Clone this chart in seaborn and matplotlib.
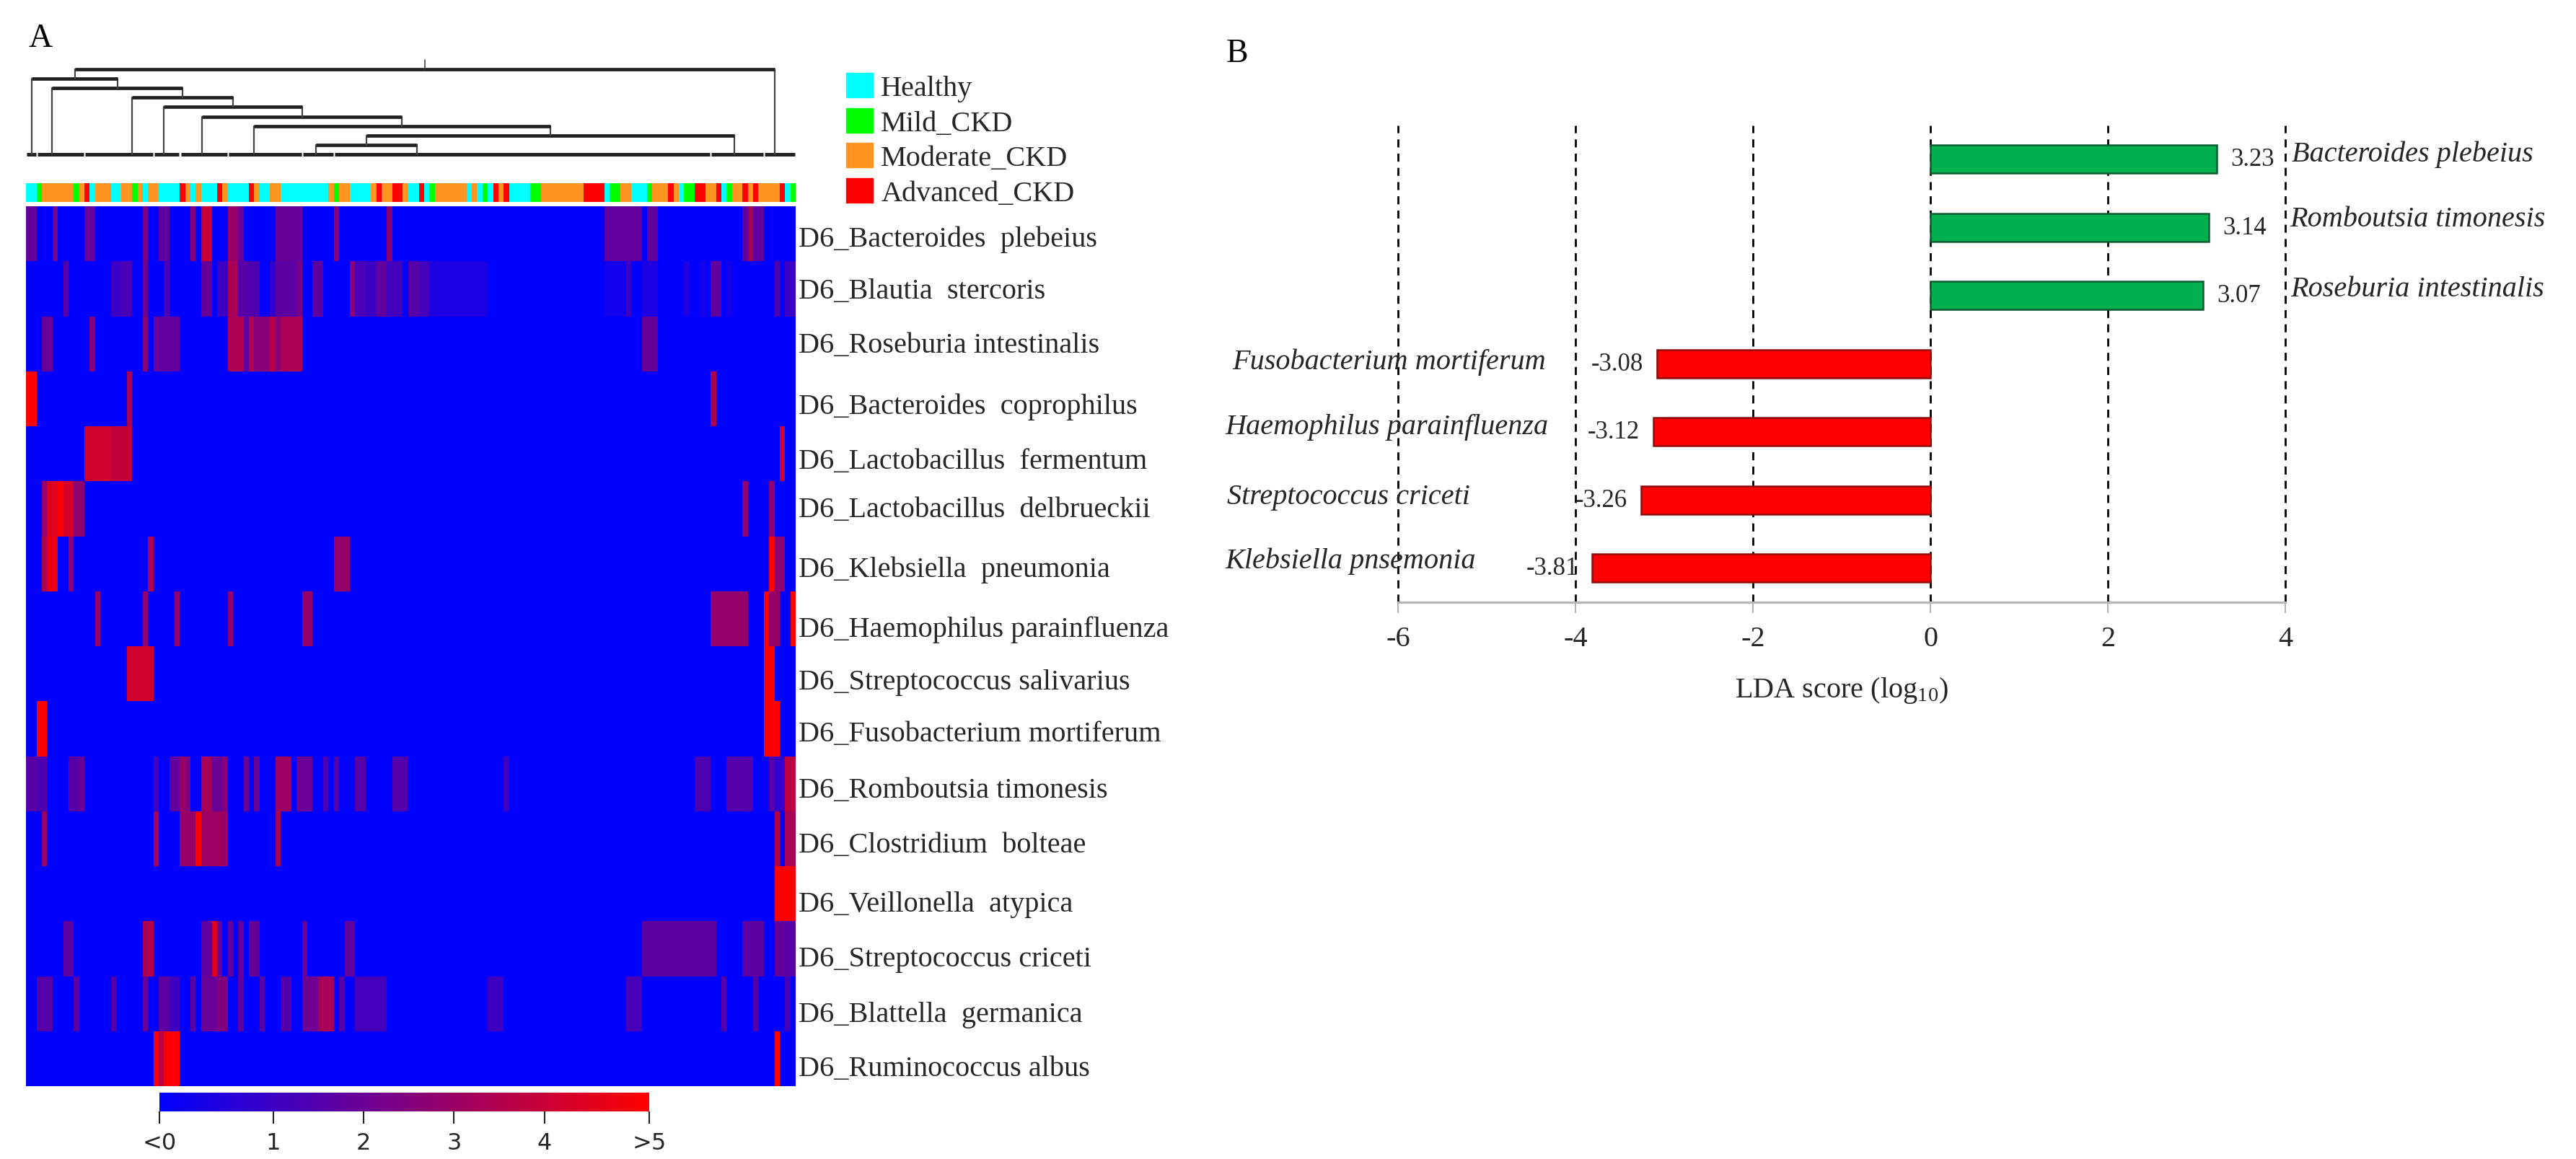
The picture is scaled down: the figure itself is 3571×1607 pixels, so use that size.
import numpy as np
import pandas as pd
import matplotlib.pyplot as plt
from matplotlib.colors import LinearSegmentedColormap, ListedColormap
from matplotlib.patches import Patch
import seaborn as sns

# Panel A: (first sample, last sample + 1, value) for each species
bacteroides_plebeius = [(0, 2, 1.8), (5, 6, 2.3), (11, 13, 1.9), (22, 23, 2.3), (25, 27, 1.7), (31, 32, 2.5),
                        (33, 35, 4.0), (38, 40, 3.0), (40, 41, 2.0), (47, 52, 1.9), (58, 59, 2.7), (68, 69, 2.7),
                        (109, 116, 1.8), (117, 119, 1.8), (135, 136, 1.9), (136, 137, 3.4), (137, 139, 1.8)]
blautia_stercoris = [(7, 8, 1.5), (16, 18, 1.0), (18, 20, 1.3), (22, 23, 2.0), (26, 27, 1.3), (33, 35, 1.9),
                     (36, 38, 1.0), (38, 40, 3.3), (40, 42, 1.6), (42, 44, 1.4), (46, 47, 0.8), (47, 51, 1.7),
                     (51, 52, 2.3), (54, 56, 1.7), (61, 62, 2.8), (62, 64, 1.3), (64, 66, 1.0), (66, 68, 1.8),
                     (68, 71, 1.2), (72, 74, 1.6), (74, 76, 1.2), (76, 87, 0.35), (109, 113, 0.15), (113, 114, 1.0),
                     (116, 119, 0.35), (124, 125, 0.4), (127, 128, 0.3), (129, 131, 1.8), (132, 133, 0.2),
                     (141, 142, 1.4), (143, 145, 1.0)]
roseburia_intestinalis = [(3, 5, 1.9), (12, 13, 2.6), (22, 23, 2.6), (24, 25, 2.0), (25, 29, 1.8), (38, 41, 3.4),
                          (41, 42, 1.8), (42, 43, 3.5), (43, 46, 2.6), (46, 47, 3.6), (47, 48, 2.6), (48, 52, 3.4),
                          (116, 119, 1.9)]
bacteroides_coprophilus = [(0, 2, 5.2), (19, 20, 3.3), (129, 130, 3.4)]
lactobacillus_fermentum = [(11, 16, 4.2), (16, 20, 3.9), (142, 143, 4.0)]
lactobacillus_delbrueckii = [(3, 4, 3.0), (4, 6, 4.5), (6, 7, 5.2), (7, 9, 4.3), (9, 11, 2.8), (135, 136, 2.8),
                             (140, 141, 2.8)]
klebsiella_pneumonia = [(3, 4, 3.4), (4, 6, 4.8), (8, 9, 2.8), (23, 24, 3.5), (58, 61, 2.9), (140, 141, 5.2),
                        (141, 143, 2.8)]
haemophilus_parainfluenza = [(13, 14, 2.9), (22, 23, 2.8), (28, 29, 2.8), (38, 39, 2.8), (52, 54, 2.9),
                             (129, 136, 2.9), (139, 140, 5.2), (140, 142, 2.9), (144, 145, 5.2)]
streptococcus_salivarius = [(19, 24, 4.2), (139, 141, 5.2)]
fusobacterium_mortiferum = [(2, 4, 5.2), (139, 142, 5.2)]
romboutsia_timonesis = [(0, 2, 1.6), (2, 4, 1.4), (8, 10, 1.6), (10, 11, 2.0), (24, 25, 1.3), (27, 29, 1.8),
                        (29, 30, 3.0), (30, 31, 2.5), (33, 35, 3.3), (35, 37, 2.0), (37, 38, 2.5), (41, 42, 2.0),
                        (43, 44, 2.0), (47, 50, 3.1), (51, 54, 2.0), (56, 57, 1.3), (58, 59, 1.6), (62, 64, 1.6),
                        (69, 72, 1.5), (90, 91, 1.0), (126, 129, 1.4), (132, 137, 1.5), (140, 141, 1.6),
                        (141, 143, 0.8), (143, 145, 3.7)]
clostridium_bolteae = [(3, 4, 3.0), (24, 25, 3.4), (29, 32, 3.0), (32, 33, 5.2), (33, 38, 3.1), (47, 48, 3.3),
                       (141, 142, 3.5), (143, 145, 3.3)]
veillonella_atypica = [(141, 145, 5.2)]
streptococcus_criceti = [(7, 9, 1.7), (22, 23, 3.4), (23, 24, 3.6), (33, 35, 1.8), (35, 36, 4.4), (36, 37, 1.8),
                         (38, 39, 1.8), (40, 41, 1.8), (42, 44, 1.9), (52, 53, 1.9), (60, 62, 1.8), (116, 130, 1.7),
                         (135, 139, 1.7), (141, 143, 1.8), (143, 145, 1.6)]
blattella_germanica = [(2, 5, 1.6), (9, 10, 1.7), (16, 17, 1.5), (22, 23, 1.9), (25, 27, 1.7), (27, 29, 1.1),
                       (31, 32, 1.6), (33, 36, 2.0), (36, 38, 2.5), (40, 41, 1.8), (44, 45, 1.6), (48, 50, 1.5),
                       (52, 55, 2.1), (55, 58, 3.3), (59, 60, 1.6), (62, 68, 1.2), (87, 90, 1.1), (113, 116, 1.3),
                       (131, 132, 1.5), (137, 138, 1.5), (143, 144, 1.2)]
ruminococcus_albus = [(24, 25, 5.2), (25, 26, 3.8), (26, 29, 5.2), (141, 142, 5.2)]

heat_rows = [bacteroides_plebeius, blautia_stercoris, roseburia_intestinalis, bacteroides_coprophilus,
             lactobacillus_fermentum, lactobacillus_delbrueckii, klebsiella_pneumonia, haemophilus_parainfluenza,
             streptococcus_salivarius, fusobacterium_mortiferum, romboutsia_timonesis, clostridium_bolteae,
             veillonella_atypica, streptococcus_criceti, blattella_germanica, ruminococcus_albus]
heat_labels = ['D6_Bacteroides  plebeius', 'D6_Blautia  stercoris', 'D6_Roseburia intestinalis',
               'D6_Bacteroides  coprophilus', 'D6_Lactobacillus  fermentum', 'D6_Lactobacillus  delbrueckii',
               'D6_Klebsiella  pneumonia', 'D6_Haemophilus parainfluenza', 'D6_Streptococcus salivarius',
               'D6_Fusobacterium mortiferum', 'D6_Romboutsia timonesis', 'D6_Clostridium  bolteae',
               'D6_Veillonella  atypica', 'D6_Streptococcus criceti', 'D6_Blattella  germanica',
               'D6_Ruminococcus albus']
n_samples = 145

# the row names were placed by hand in the original, not quite on the row centres
label_rows = [0.538, 1.482, 2.466, 3.58, 4.577, 5.456, 6.544, 7.633, 8.59, 9.534, 10.557, 11.554, 12.63, 13.626,
              14.636, 15.62]

# sample groups along the top strip: first sample of each run and its group
group_names = ['Healthy', 'Mild_CKD', 'Moderate_CKD', 'Advanced_CKD']
group_colors = ['#00ffff', '#00ff00', '#ff9420', '#ff0000']
group_starts = [0, 2, 3, 9, 10, 11, 12, 13, 16, 18, 20, 21, 22, 23, 25, 29, 30, 31, 32, 33, 36, 37, 38, 42, 43, 44,
                46, 48, 57, 58, 59, 61, 65, 66, 67, 69, 71, 72, 74, 75, 76, 77, 83, 84, 85, 86, 87, 88, 89, 90, 91,
                95, 97, 105, 109, 110, 112, 114, 117, 118, 121, 122, 123, 124, 126, 128, 130, 131, 132, 133, 135,
                136, 137, 138, 142, 143, 144]
group_runs = [0, 1, 2, 1, 2, 3, 0, 2, 0, 2, 1, 2, 0, 2, 0, 3, 2, 0, 2, 0, 3, 2, 0, 3, 2, 0,
              2, 0, 2, 1, 2, 0, 2, 3, 2, 3, 2, 0, 3, 0, 1, 2, 0, 2, 0, 1, 0, 3, 2, 3, 0,
              1, 2, 3, 0, 1, 2, 0, 1, 2, 3, 2, 0, 1, 3, 2, 3, 0, 1, 2, 3,
              2, 3, 2, 3, 0, 1]

# dendrogram: side branches from the root downwards, in samples
branch_left = [1.15, 4.96, 20.0, 26.0, 33.2, 42.9, 54.6]
inner_right = [73.6, 133.4]
root_right = 141.0
cut_samples = [0, 2, 11, 24, 29, 38, 52, 58, 129, 139, 145]

cbar_ticks = [-0.26, 1, 2, 3, 4, 5.16]
cbar_labels = ['<0', '1', '2', '3', '4', '>5']

# Panel B
taxa = ['Bacteroides plebeius', 'Romboutsia timonesis', 'Roseburia intestinalis', 'Fusobacterium mortiferum',
        'Haemophilus parainfluenza', 'Streptococcus criceti', 'Klebsiella pnsemonia']
lda_scores = [3.23, 3.14, 3.07, -3.08, -3.12, -3.26, -3.81]
lda_ticks = [-6, -4, -2, 0, 2, 4]

WIDTH, HEIGHT = 3571, 1608


def box(x0, y0, x1, y1):
    # pixel box of the reference -> figure fractions
    return [x0 / WIDTH, 1 - y1 / HEIGHT, (x1 - x0) / WIDTH, (y1 - y0) / HEIGHT]


sns.set_theme(style='white')
plt.rcParams['font.family'] = ['Liberation Serif', 'DejaVu Sans']
plt.rcParams['mathtext.default'] = 'regular'
plt.rcParams['axes.unicode_minus'] = False

fig = plt.figure(figsize=(WIDTH / 100, HEIGHT / 100), dpi=100)

# heatmap
matrix = np.full((len(heat_rows), n_samples), -0.26)
for i, runs in enumerate(heat_rows):
    for start, stop, value in runs:
        matrix[i, start:stop] = value
heat_df = pd.DataFrame(matrix, index=heat_labels)

blue_red = LinearSegmentedColormap.from_list('blue_red', ['#0000ff', '#ff0000'])
ax_heat = fig.add_axes(box(36, 287, 1103, 1507))
ax_cbar = fig.add_axes(box(221, 1516, 900, 1542))
sns.heatmap(heat_df, ax=ax_heat, cmap=blue_red, vmin=-0.26, vmax=5.16, xticklabels=False, cbar_ax=ax_cbar,
            cbar_kws={'orientation': 'horizontal', 'ticks': cbar_ticks})
ax_heat.set_yticks(label_rows, heat_labels, rotation=0, fontsize=29)
ax_heat.yaxis.tick_right()
ax_heat.tick_params(axis='y', length=0, pad=3)
ax_heat.set_xlabel('')

ax_cbar.set_xticks(cbar_ticks, cbar_labels, family='DejaVu Sans', fontsize=23)
ax_cbar.tick_params(axis='x', length=12, width=1.5, color='#222222', bottom=True, pad=8)

# group strip
strip = np.repeat(group_runs, np.diff(group_starts + [n_samples])).reshape(1, -1)
ax_strip = fig.add_axes(box(36, 255, 1103, 281))
sns.heatmap(strip, ax=ax_strip, cmap=ListedColormap(group_colors), vmin=-0.5, vmax=3.5, cbar=False,
            xticklabels=False, yticklabels=False)

# dendrogram, merged from the deepest pair up to the root
ax_tree = fig.add_axes(box(36, 80, 1103, 220))
ax_tree.set_xlim(0, n_samples)
ax_tree.set_ylim(0, 135 / 12.6)
ax_tree.axis('off')
tree_dark = '#222222'
tree_leg = '#444444'
# baseline is broken between the leaf clusters
for left, right in zip(cut_samples[:-1], cut_samples[1:]):
    ax_tree.plot([left + 0.15, right - 0.15], [0.4, 0.4], color=tree_dark, lw=3.6, solid_capstyle='butt')
level = 1.4
pair = [branch_left[-1], inner_right[0]]
ax_tree.plot([pair[0], pair[0]], [0.4, level], color=tree_leg, lw=1.6)
ax_tree.plot([pair[1], pair[1]], [0.4, level], color=tree_leg, lw=1.6)
ax_tree.plot(pair, [level, level], color=tree_dark, lw=3.4, solid_capstyle='butt')
node_x, node_y = np.mean(pair), level
sides = [inner_right[1]] + branch_left[-2::-1]
for other in sides:
    level += 1
    ax_tree.plot([node_x, node_x], [node_y, level], color=tree_leg, lw=1.6)
    ax_tree.plot([other, other], [0.4, level], color=tree_leg, lw=1.6)
    ax_tree.plot([other, node_x], [level, level], color=tree_dark, lw=3.4, solid_capstyle='butt')
    node_x, node_y = (other + node_x) / 2, level
level += 1
ax_tree.plot([node_x, node_x], [node_y, level], color=tree_leg, lw=1.6)
ax_tree.plot([root_right, root_right], [0.4, level], color=tree_leg, lw=1.6)
ax_tree.plot([node_x, root_right], [level, level], color=tree_dark, lw=3.4, solid_capstyle='butt')
top_x = (node_x + root_right) / 2
ax_tree.plot([top_x, top_x], [level, level + 1], color=tree_leg, lw=1.2)

# legend of the groups
handles = [Patch(facecolor=c, edgecolor=c, label=n) for c, n in zip(group_colors, group_names)]
fig.legend(handles=handles, loc='upper left', bbox_to_anchor=(1173 / WIDTH, 1 - 102 / HEIGHT), frameon=False,
           fontsize=29, handlelength=0.92, handleheight=0.92, handletextpad=0.28, labelspacing=0.22,
           borderpad=0, borderaxespad=0)

fig.text(39 / WIDTH, 1 - 65 / HEIGHT, 'A', fontsize=33, color='black')
fig.text(1700 / WIDTH, 1 - 86 / HEIGHT, 'B', fontsize=33, color='black')

# LDA bars
lda_df = pd.DataFrame({'taxon': taxa, 'score': lda_scores})
lda_df['side'] = np.where(lda_df['score'] > 0, 'up', 'down')
ax_lda = fig.add_axes(box(1938, 174.5, 3168, 836))
sns.barplot(data=lda_df, y='taxon', x='score', hue='side', palette={'up': '#00b04f', 'down': '#ff0000'},
            dodge=False, width=0.41, saturation=1, legend=False, ax=ax_lda, zorder=3)
edge_dark = {'up': '#0b5c2e', 'down': '#8f0a0a'}
for cont, side in zip(ax_lda.containers, ['up', 'down']):
    for bar in cont:
        bar.set_edgecolor(edge_dark[side])
        bar.set_linewidth(1.8)
    ax_lda.bar_label(cont, fmt='%.2f', padding=14, fontsize=25)

ax_lda.set_xlim(-6, 4)
ax_lda.set_xticks(lda_ticks)
ax_lda.set_yticks([])
ax_lda.set_ylabel('')
ax_lda.set_xlabel('LDA score (log$_{10}$)', fontsize=29, labelpad=23)
ax_lda.tick_params(axis='x', labelsize=29, length=11, width=1.5, color='#b5b5b5', bottom=True, pad=12)
ax_lda.set_axisbelow(True)
ax_lda.xaxis.grid(True, color='black', lw=2.0, linestyle=(0, (4, 3.1)))
for gl in ax_lda.get_xgridlines():
    gl.set_clip_on(False)
for name in ['top', 'left', 'right']:
    ax_lda.spines[name].set_visible(False)
ax_lda.spines['bottom'].set_color('#b5b5b5')
ax_lda.spines['bottom'].set_linewidth(2.2)

# taxon names sit at the free end of each bar
name_x = [4.07, 4.05, 4.06, -7.87, -7.95, -7.93, -7.95]
name_shift = [-0.08, -0.12, -0.10, -0.03, -0.08, -0.055, -0.11]
for i, taxon in enumerate(taxa):
    ax_lda.text(name_x[i], i + name_shift[i], taxon, style='italic', fontsize=29, va='center', ha='left',
                clip_on=False, zorder=4)

fig.savefig('out.png', dpi=100)
